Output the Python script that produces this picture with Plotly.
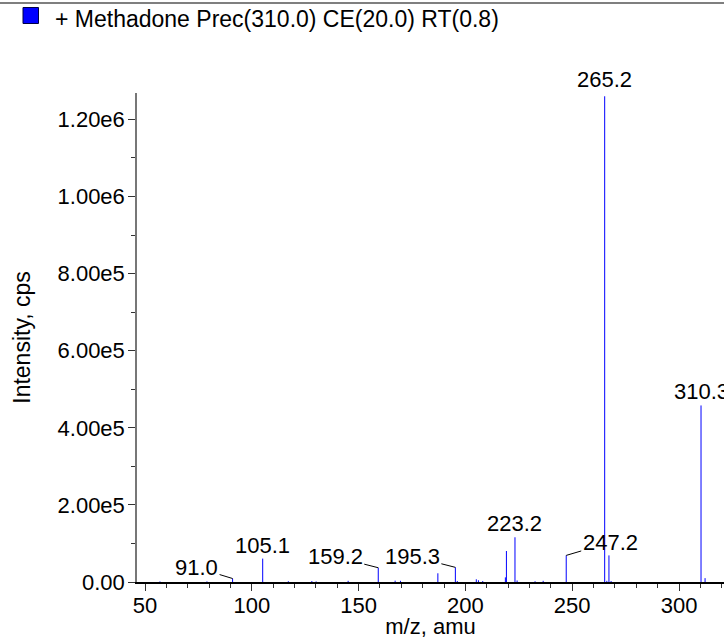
import plotly.graph_objects as go

# ---- data -------------------------------------------------------------
mz = [57.0, 79.0, 91.0, 105.1, 117.1, 128.1, 130.1, 145.1, 159.2, 167.1,
      169.6, 187.1, 195.3, 196.2, 205.1, 206.1, 208.1, 218.7, 219.2, 223.2,
      224.2, 232.6, 236.4, 247.2, 265.2, 266.2, 267.2, 268.2, 310.3, 312.2]
intensity = [1500, 1500, 9000, 60700, 2000, 2500, 1500, 3000, 37000, 3500,
             3000, 22600, 38000, 2500, 7000, 4500, 2500, 12000, 80400, 116000,
             4000, 2000, 3000, 69000, 1260000, 3000, 69000, 2500, 458000, 10000]

label_mz = [91.0, 105.1, 159.2, 195.3, 223.2, 247.2, 265.2, 310.3]
label_text = ["91.0", "105.1", "159.2", "195.3", "223.2", "247.2", "265.2", "310.3"]

x_tick_vals = [50, 100, 150, 200, 250, 300]
x_tick_text = ["50", "100", "150", "200", "250", "300"]
y_tick_vals = [0, 200000, 400000, 600000, 800000, 1000000, 1200000]
y_tick_text = ["0.00", "2.00e5", "4.00e5", "6.00e5", "8.00e5", "1.00e6", "1.20e6"]

legend_text = "+ Methadone Prec(310.0) CE(20.0) RT(0.8)"
x_title = "m/z, amu"
y_title = "Intensity, cps"

X_RANGE = [46.25, 321.06]
Y_RANGE = [0, 1268500]

# ---- geometry (pixels) ---------------------------------------------------
W, H = 724, 639
PLOT_TOP, PLOT_BOTTOM = 93, 582
PLOT_L = 137
PLOT_H = PLOT_BOTTOM - PLOT_TOP
PLOT_W = W - PLOT_L


def py(pix):
    return 1 + (PLOT_TOP - pix) / PLOT_H


def pxp(pix):
    return (pix - PLOT_L) / PLOT_W


# ---- build stick spectrum -------------------------------------------
xs, ys = [], []
for m, i in zip(mz, intensity):
    xs += [m, m, None]
    ys += [0, i, None]

FONT = "Liberation Sans, Arial, Helvetica, sans-serif"
BLUE = "#0000ff"

fig = go.Figure()
fig.add_trace(go.Scatter(x=xs, y=ys, mode="lines",
                         line=dict(color=BLUE, width=1),
                         hoverinfo="skip", showlegend=False))

# blue triangle marker at the zero of the y axis
amu_per_px = (X_RANGE[1] - X_RANGE[0]) / PLOT_W
int_per_px = (Y_RANGE[1] - Y_RANGE[0]) / PLOT_H
fig.add_trace(go.Scatter(x=[X_RANGE[0] - 7.8 * amu_per_px],
                         y=[Y_RANGE[0] + 4 * int_per_px],
                         mode="markers", cliponaxis=False,
                         marker=dict(symbol="triangle-right", size=16, color=BLUE,
                                     line=dict(width=0)),
                         hoverinfo="skip", showlegend=False))

# ---- peak labels ------------------------------------------------------
lookup = dict(zip(mz, intensity))
offsets = {  # (ax, ay) pixel offsets of label centre; others sit above the peak
    "91.0": (-36, -11),
    "159.2": (-43, -11),
    "195.3": (-43, -11),
    "247.2": (44, -13),
}
above_shift = {"265.2": 2}
annotations = []
for m, t in zip(label_mz, label_text):
    h = lookup[m]
    if t in offsets:
        ax, ay = offsets[t]
        annotations.append(dict(x=m, y=h, xref="x", yref="y", text=t,
                                showarrow=True, arrowhead=0, arrowwidth=1,
                                arrowcolor="#000000", standoff=0,
                                ax=ax, ay=ay,
                                font=dict(family=FONT, size=22, color="#000000")))
    else:
        annotations.append(dict(x=m, y=h, xref="x", yref="y", text=t,
                                showarrow=False, yanchor="bottom",
                                yshift=above_shift.get(t, -1),
                                font=dict(family=FONT, size=22, color="#000000")))

# legend text
annotations.append(dict(x=pxp(53), y=py(19), xref="paper", yref="paper",
                        text=legend_text, showarrow=False,
                        xanchor="left", yanchor="middle",
                        font=dict(family=FONT, size=23, color="#000000")))

shapes = [
    # legend swatch
    dict(type="rect", xref="paper", yref="paper",
         x0=pxp(23), x1=pxp(38.5), y0=py(23.5), y1=py(7.5),
         fillcolor=BLUE, line=dict(color="#000044", width=1)),
    # top frame line
    dict(type="line", xref="paper", yref="paper",
         x0=pxp(0), x1=pxp(W), y0=py(3), y1=py(3),
         line=dict(color="#555555", width=1.5)),
]

fig.update_layout(
    width=W, height=H,
    margin=dict(l=PLOT_L, r=0, t=PLOT_TOP, b=H - PLOT_BOTTOM, pad=0, autoexpand=False),
    paper_bgcolor="white", plot_bgcolor="white",
    font=dict(family=FONT, size=22, color="#000000"),
    annotations=annotations, shapes=shapes,
    showlegend=False,
)
fig.update_xaxes(
    range=X_RANGE, showgrid=False, zeroline=False,
    showline=True, linecolor="#000000", linewidth=1.5,
    tickmode="array", tickvals=x_tick_vals, ticktext=x_tick_text,
    ticks="outside", ticklen=7, tickcolor="#333333", tickwidth=1,
    ticklabelstandoff=-4,
    minor=dict(tick0=0, dtick=10, ticks="outside", ticklen=4,
               tickcolor="#333333", tickwidth=1, showgrid=False),
    tickfont=dict(family=FONT, size=22),
    title=dict(text=x_title, font=dict(family=FONT, size=22), standoff=4),
    automargin=False,
)
fig.update_yaxes(
    range=Y_RANGE, showgrid=False, zeroline=False,
    showline=True, linecolor="#777777", linewidth=1.5,
    tickmode="array", tickvals=y_tick_vals, ticktext=y_tick_text,
    ticks="outside", ticklen=7, tickcolor="#333333", tickwidth=1,
    ticklabelstandoff=-1,
    minor=dict(tick0=0, dtick=100000, ticks="outside", ticklen=4,
               tickcolor="#333333", tickwidth=1, showgrid=False),
    tickfont=dict(family=FONT, size=22),
    title=dict(text=y_title, font=dict(family=FONT, size=23), standoff=21),
    automargin=False,
)

# the page body gets no default margin, so the figure sits at the window corner
fig.write_html("out.html", config={"displayModeBar": False},
               post_script="document.body.style.margin='0';")
